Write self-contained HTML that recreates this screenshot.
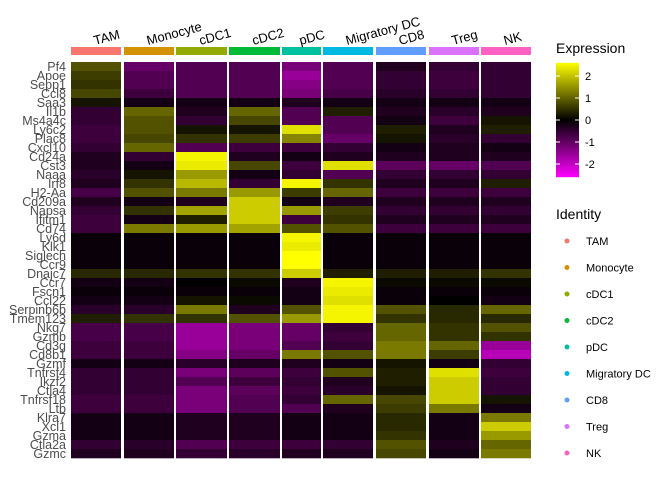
<!DOCTYPE html>
<html><head><meta charset="utf-8"><style>
body{margin:0;background:#fff;font-family:"Liberation Sans",sans-serif}
</style></head><body>
<svg id="c" width="672" height="480" xmlns="http://www.w3.org/2000/svg" font-family="Liberation Sans, sans-serif"></svg>
<script>
const genes=["Pf4","Apoe","Sepp1","Ccl8","Saa3","Il1b","Ms4a4c","Ly6c2","Plac8","Cxcl10","Cd24a","Cst3","Naaa","Irf8","H2-Aa","Cd209a","Napsa","Ifitm1","Cd74","Ly6d","Klk1","Siglech","Ccr9","Dnajc7","Ccr7","Fscn1","Ccl22","Serpinb6b","Tmem123","Nkg7","Gzmb","Cd3g","Cd8b1","Gzmf","Tnfrsf4","Ikzf2","Ctla4","Tnfrsf18","Ltb","Klra7","Xcl1","Gzma","Ctla2a","Gzmc"];
const groups=["TAM","Monocyte","cDC1","cDC2","pDC","Migratory DC","CD8","Treg","NK"];
const groupColors=["#F8766D","#D39200","#93AA00","#00BA38","#00C19F","#00B9E3","#619CFF","#DB72FB","#FF61C3"];
const groupStart=[71,124,176,229,282,323,376,429,481];
const groupEnd=[121,174,227,280,321,373,426,479,531];
const values=[
[0.8,-1,-0.8,-0.8,-1.2,-0.8,-0.3,-0.5,-0.5],
[0.6,-0.8,-0.8,-0.8,-1.5,-0.8,-0.5,-0.6,-0.5],
[0.5,-0.8,-0.8,-0.8,-1.3,-0.8,-0.5,-0.6,-0.5],
[0.7,-0.6,-0.8,-0.8,-1.2,-0.7,-0.4,-0.5,-0.5],
[0.2,-0.2,-0.2,-0.2,-0.3,-0.2,-0.2,-0.2,-0.2],
[-0.5,1.0,-0.3,1.0,-0.8,0.3,-0.3,-0.4,-0.3],
[-0.5,0.8,-0.5,0.7,-0.8,-0.8,-0.2,-0.6,0.2],
[-0.6,0.8,0.2,0.2,2.2,-0.8,0.3,-0.3,0.3],
[-0.6,0.7,0.5,0.6,1.3,-1.0,0.2,-0.4,-0.5],
[-0.5,1.0,-0.8,-0.6,-0.6,-0.5,-0.2,-0.3,-0.2],
[-0.3,-0.5,2.4,-0.3,-0.2,-0.3,-0.3,-0.3,-0.3],
[-0.3,-0.2,2.3,0.7,-0.6,2.2,-0.9,-1.0,-0.8],
[-0.4,0.2,1.5,-0.2,-0.5,-0.8,-0.5,-0.5,-0.5],
[-0.3,0.5,1.8,-0.5,2.4,0.5,-0.3,-0.3,0.3],
[-0.7,0.8,1.2,1.5,0.6,1.0,-0.6,-0.6,-0.6],
[-0.3,-0.2,-0.3,2.0,-0.2,-0.3,-0.3,-0.3,-0.3],
[-0.5,0.5,1.6,2.0,1.5,0.6,-0.5,-0.5,-0.5],
[-0.6,-0.2,0.3,2.0,-0.6,0.5,-0.3,-0.3,-0.3],
[-0.6,1.2,1.5,1.6,0.8,0.8,-0.6,-0.6,-0.6],
[-0.1,-0.1,-0.1,-0.1,2.4,-0.1,-0.1,-0.1,-0.1],
[-0.1,-0.1,-0.1,-0.1,2.3,-0.1,-0.1,-0.1,-0.1],
[-0.1,-0.1,-0.1,-0.1,2.5,-0.1,-0.1,-0.1,-0.1],
[-0.1,-0.1,-0.1,-0.1,2.5,-0.1,-0.1,-0.1,-0.1],
[0.4,0.4,0.5,0.5,2.0,0.3,0.3,0.3,0.5],
[-0.2,-0.2,0,0.1,-0.3,2.4,0.1,0.1,0.1],
[-0.1,-0.1,-0.1,-0.1,-0.2,2.3,-0.1,-0.1,-0.1],
[-0.2,-0.2,0.2,0.1,-0.2,2.2,-0.1,0,-0.2],
[-0.4,-0.4,1.2,-0.3,0.8,2.4,0.8,0.4,1.0],
[0.3,0.5,0.5,0.8,1.5,2.4,0.5,0.4,0.4],
[-0.7,-0.7,-1.5,-1.2,-1.0,-0.5,1.0,0.5,0.8],
[-0.7,-0.7,-1.5,-1.2,-1.0,-0.6,1.0,0.5,0.5],
[-0.6,-0.6,-1.5,-1.2,-0.8,-0.5,1.2,1.0,-1.5],
[-0.6,-0.6,-1.3,-1.0,1.2,0.8,1.2,0.6,-1.8],
[-0.2,-0.2,-0.4,-0.3,-0.3,-0.2,0.2,-0.2,-0.5],
[-0.5,-0.5,-1.2,-0.9,-0.6,0.8,0.3,2.2,-0.6],
[-0.5,-0.5,-0.8,-0.6,-0.5,-0.3,0.3,2.0,-0.5],
[-0.5,-0.5,-1.2,-0.9,-0.6,-0.4,0.2,2.0,-0.5],
[-0.6,-0.6,-1.2,-0.8,-0.5,1.0,0.7,2.0,0.2],
[-0.6,-0.6,-1.2,-0.8,-0.8,-0.3,0.6,1.2,-0.2],
[-0.2,-0.2,-0.3,-0.3,-0.2,-0.2,0.4,-0.2,1.2],
[-0.2,-0.2,-0.3,-0.3,-0.2,-0.2,0.4,-0.2,2.0],
[-0.2,-0.2,-0.3,-0.3,-0.2,-0.2,0.5,-0.2,1.5],
[-0.5,-0.4,-0.8,-0.6,-0.6,-0.5,0.8,-0.3,1.0],
[-0.3,-0.3,-0.5,-0.4,-0.3,-0.3,0.7,-0.2,1.2]];
const legendTicks=[2,1,0,-1,-2];

(function(){
const svg=document.getElementById('c');
const NS='http://www.w3.org/2000/svg';
function mk(t,a,p){const e=document.createElementNS(NS,t);for(const k in a)e.setAttribute(k,a[k]);(p||svg).appendChild(e);return e;}
const topY=62,bottomY=458,rowH=(bottomY-topY)/genes.length;
function yScale(i){return topY+i*rowH;}
function color(v){v=Math.max(-2.5,Math.min(2.5,v));const t=Math.abs(v)/2.5;
 if(v>=0)return `rgb(${Math.round(255*t)},${Math.round(255*t)},0)`;
 return `rgb(${Math.round(255*t)},0,${Math.round(255*t)})`;}
const cells=mk('g',{});


genes.forEach((g,i)=>{
 groups.forEach((gr,j)=>{
  const r=mk('rect',{x:groupStart[j],y:yScale(i),width:groupEnd[j]-groupStart[j],height:rowH+0.3,fill:color(values[i][j])},cells);
  
  
 });
 const t=mk('text',{x:66,y:yScale(i)+rowH/2+4.5,'text-anchor':'end','font-size':12.5,fill:'#4d4d4d'});
 t.textContent=g;
 
 
});
groups.forEach((gr,j)=>{
 const b=mk('rect',{x:groupStart[j],y:47,width:groupEnd[j]-groupStart[j],height:8,fill:groupColors[j]});
 
 
 const cx=(groupStart[j]+groupEnd[j])/2-1;
 const t=mk('text',{x:cx,y:45,'text-anchor':'start','font-size':13,fill:'#000',transform:`rotate(-15 ${cx} 45)`});
 t.textContent=gr;
 
 
});
const lt=mk('text',{x:556,y:53,'font-size':14,fill:'#000'});lt.textContent='Expression';


const defs=mk('defs',{});
const lg=mk('linearGradient',{id:'g',x1:0,y1:0,x2:0,y2:1},defs);
mk('stop',{offset:'0','stop-color':'#ffff00'},lg);mk('stop',{offset:'0.5','stop-color':'#000'},lg);mk('stop',{offset:'1','stop-color':'#ff00ff'},lg);
const zeroY=120,unit=22;
const cb=mk('rect',{x:556,y:zeroY-2.6*unit,width:23,height:5.2*unit,fill:'url(#g)'});


legendTicks.forEach(v=>{
 const y=zeroY-v*unit;
 mk('line',{x1:556,x2:560,y1:y,y2:y,stroke:'#fff'});mk('line',{x1:575,x2:579,y1:y,y2:y,stroke:'#fff'});
 const t=mk('text',{x:585,y:y+4,'font-size':11,fill:'#000'});t.textContent=String(v);
 
 
});
const it=mk('text',{x:556,y:219,'font-size':14,fill:'#000'});it.textContent='Identity';


groups.forEach((gr,j)=>{
 const y=241+j*26.5;
 const g=mk('g',{});
 
 
 mk('circle',{cx:567,cy:y,r:2.5,fill:groupColors[j]},g);
 const t=mk('text',{x:586,y:y+4,'font-size':11,fill:'#000'},g);t.textContent=gr;
});
})();
</script>
</body></html>
